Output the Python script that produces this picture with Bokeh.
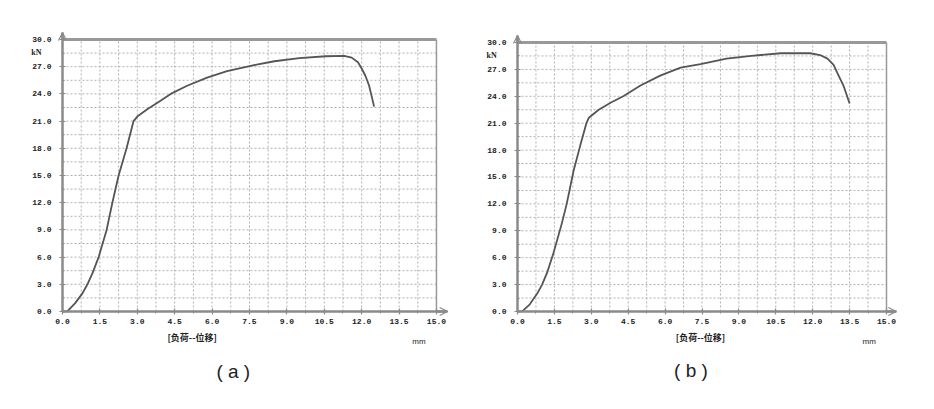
import numpy as np
from bokeh.plotting import figure
from bokeh.layouts import row
from bokeh.models import FixedTicker, PrintfTickFormatter, Arrow, OpenHead, Label
from bokeh.embed import file_html
from bokeh.resources import INLINE

# ---- data (displacement mm, load kN) ----
disp_a = [0, 0.2, 0.5, 0.8, 1.0, 1.2, 1.45, 1.77, 2.0, 2.25, 2.57, 2.85, 3.0, 3.4, 3.9,
          4.34, 5.0, 5.8, 6.6, 7.55, 8.5, 9.5, 10.56, 11.3, 11.6, 11.85, 12.0, 12.15, 12.3, 12.5]
load_a = [0, 0.05, 0.9, 2.0, 3.0, 4.2, 6.0, 9.0, 12.0, 15.0, 18.0, 21.0, 21.5, 22.3, 23.2,
          24.0, 24.9, 25.8, 26.5, 27.1, 27.6, 27.95, 28.15, 28.2, 28.0, 27.5, 26.8, 26.0, 24.9, 22.6]

disp_b = [0, 0.2, 0.5, 0.8, 1.0, 1.2, 1.46, 1.8, 2.0, 2.28, 2.55, 2.8, 2.9, 3.3, 3.8,
          4.3, 5.0, 5.8, 6.63, 7.44, 8.5, 9.5, 10.7, 11.9, 12.3, 12.6, 12.85, 13.0, 13.25, 13.5]
load_b = [0, 0.05, 0.8, 2.0, 3.0, 4.3, 6.5, 9.8, 12.0, 15.7, 18.5, 21.0, 21.6, 22.5, 23.3,
          24.0, 25.2, 26.3, 27.2, 27.6, 28.2, 28.5, 28.8, 28.8, 28.6, 28.2, 27.5, 26.6, 25.2, 23.2]

x_ticks = [0.0, 1.5, 3.0, 4.5, 6.0, 7.5, 9.0, 10.5, 12.0, 13.5, 15.0]
y_ticks = [0.0, 3.0, 6.0, 9.0, 12.0, 15.0, 18.0, 21.0, 24.0, 27.0, 30.0]
x_minor = [t + 0.75 for t in x_ticks[:-1]]
y_minor = [t + 1.5 for t in y_ticks[:-1]]

x_label = "[负荷--位移]"
x_unit = "mm"
y_unit = "kN"
captions = ["( a )", "( b )"]

AX = "#8a8a8a"
GRID = "#b0b0b0"
TXT = "#222222"
TICKFONT = "Liberation Mono"


def panel(disp, load, caption, fig_w, fig_h, px_x0, px_y0, sx, sy,
          x_arrow, y_arrow, lab_x, unit_x, cap_x):
    # data ranges derived from pixel layout: (px_x0, px_y0) is the data origin
    x_start = -px_x0 / sx
    x_end = (fig_w - px_x0) / sx
    y_end = px_y0 / sy
    y_start = -(fig_h - px_y0) / sy
    p = figure(x_range=(x_start, x_end), y_range=(y_start, y_end),
               width=fig_w, height=fig_h,
               min_border=0, min_border_left=0, min_border_right=0,
               min_border_top=0, min_border_bottom=0,
               output_backend="svg", toolbar_location=None,
               background_fill_color="white", border_fill_color="white")
    p.outline_line_color = None
    p.xgrid.visible = False
    p.ygrid.visible = False

    xmax = x_ticks[-1]
    ymax = y_ticks[-1]
    gx = sorted(x_ticks[1:-1] + x_minor)
    gy = sorted(y_ticks[1:-1] + y_minor)
    p.segment(x0=gx, y0=[0] * len(gx), x1=gx, y1=[ymax] * len(gx),
              line_color=GRID, line_width=1, line_dash="2 2")
    p.segment(x0=[0] * len(gy), y0=gy, x1=[xmax] * len(gy), y1=gy,
              line_color=GRID, line_width=1, line_dash="2 2")
    p.segment(x0=[0], y0=[ymax], x1=[xmax], y1=[ymax], line_color="#999999", line_width=3)
    p.segment(x0=[xmax], y0=[0], x1=[xmax], y1=[ymax], line_color="#999999", line_width=1.5)

    p.line(disp, load, line_color="#555555", line_width=1.8)

    for ax in (p.xaxis[0], p.yaxis[0]):
        ax.fixed_location = 0
        ax.axis_line_color = AX
        ax.axis_line_width = 2.5
        ax.major_tick_line_color = AX
        ax.minor_tick_line_color = AX
        ax.major_tick_line_width = 1.2
        ax.major_label_text_font = TICKFONT
        ax.major_label_text_font_style = "bold"
        ax.major_label_text_font_size = "8px"
        ax.major_label_text_color = TXT
        ax.formatter = PrintfTickFormatter(format="%.1f")
    p.xaxis[0].bounds = (0, x_arrow)
    p.yaxis[0].bounds = (0, y_arrow)
    p.xaxis[0].ticker = FixedTicker(ticks=x_ticks, minor_ticks=x_minor)
    p.yaxis[0].ticker = FixedTicker(ticks=y_ticks, minor_ticks=y_minor)
    p.xaxis[0].major_tick_in = 3
    p.xaxis[0].major_tick_out = 3
    p.xaxis[0].minor_tick_in = 0
    p.xaxis[0].minor_tick_out = 2
    p.yaxis[0].major_tick_in = 3
    p.yaxis[0].major_tick_out = 3
    p.yaxis[0].minor_tick_in = 2
    p.yaxis[0].minor_tick_out = 0
    p.xaxis[0].major_label_standoff = 4
    p.yaxis[0].major_label_standoff = 8

    p.add_layout(Arrow(end=OpenHead(size=8, line_color=AX, line_width=1.2),
                       x_start=xmax, y_start=0, x_end=x_arrow, y_end=0,
                       line_color=AX, line_width=2.5))
    p.add_layout(Arrow(end=OpenHead(size=8, line_color=AX, line_width=1.2),
                       x_start=0, y_start=ymax, x_end=0, y_end=y_arrow,
                       line_color=AX, line_width=2.5))

    p.add_layout(Label(x=-1.05, y=28.6, text=y_unit, text_font="Liberation Serif",
                       text_font_size="8px", text_color=TXT, text_font_style="bold",
                       text_align="center", text_baseline="middle"))
    p.add_layout(Label(x=lab_x, y=-2.9, text=x_label, text_font="Noto Sans CJK SC",
                       text_font_size="9px", text_color=TXT, text_font_style="bold",
                       text_align="center", text_baseline="middle"))
    p.add_layout(Label(x=unit_x, y=-3.3, text=x_unit, text_font="Liberation Sans",
                       text_font_size="8px", text_color=TXT,
                       text_align="center", text_baseline="middle"))
    p.add_layout(Label(x=cap_x, y=-6.6, text=caption, text_font="Liberation Sans",
                       text_font_size="19px", text_color="#222222",
                       text_align="center", text_baseline="middle"))
    return p


# figure (a) occupies page x 0..462, figure (b) 462..918; both y 0..393
pa = panel(disp_a, load_a, captions[0], 462, 393, 62, 311, 24.93, 9.067,
           15.45, 30.77, 5.2, 14.3, 6.85)
pb = panel(disp_b, load_b, captions[1], 456, 393, 55, 311, 24.6, 8.967,
           15.4, 30.78, 7.44, 14.3, 7.05)

layout = row(pa, pb)
open("out.html", "w").write(file_html(layout, INLINE))
